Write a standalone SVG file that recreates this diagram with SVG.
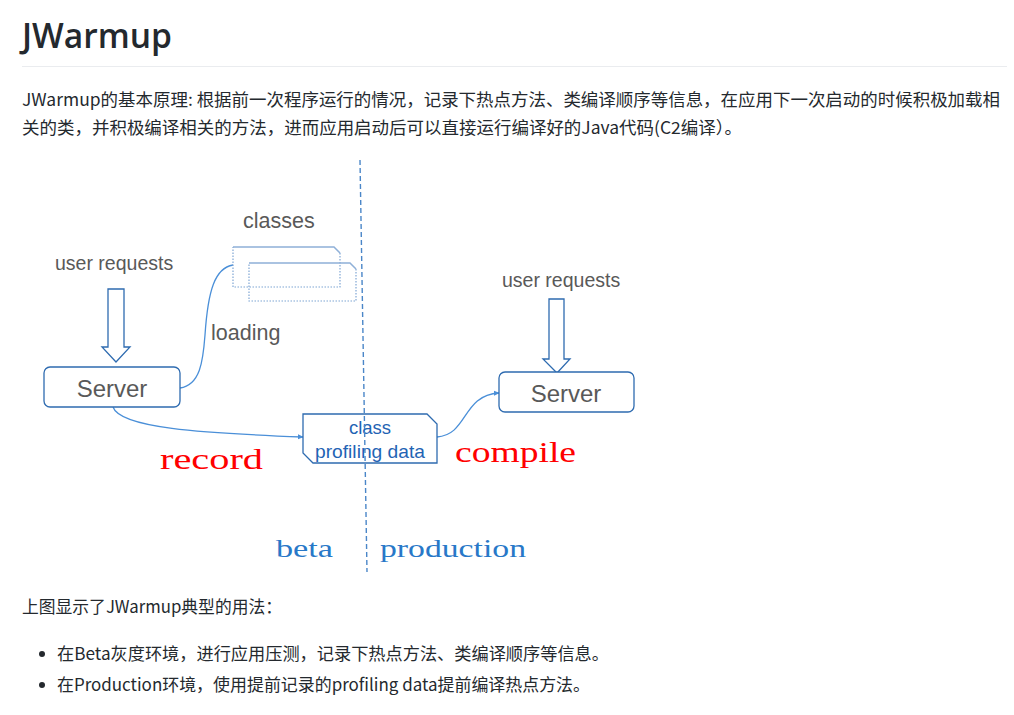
<svg xmlns="http://www.w3.org/2000/svg" width="1014" height="715" viewBox="0 0 1014 715">
<defs>
<style>
.doc{font-family:"Noto Sans CJK SC","Open Sans",sans-serif;font-size:17px;fill:#24292e}
.lbl{font-family:"Liberation Sans",Arial,sans-serif;fill:#595959}
.box{fill:#fff;stroke:#2e6bb0;stroke-width:1.3}
.conn{fill:none;stroke:#4a8fd8;stroke-width:1.3}
.cls{fill:none;stroke:#7fa6d4;stroke-width:1.2;stroke-dasharray:1.5 1.5}
.clstop{fill:none;stroke:#8fb0d8;stroke-width:1.5}
.red{font-family:"Liberation Serif","Times New Roman",serif;font-size:30px;fill:#ff0000}
.env{font-family:"Liberation Serif","Times New Roman",serif;font-size:26px;fill:#2878c8}
</style>
<marker id="ah" viewBox="0 0 8 8" refX="7" refY="4" markerWidth="6" markerHeight="6" orient="auto" markerUnits="userSpaceOnUse">
<path d="M0,0.5 L8,4 L0,7.5 Z" fill="#4a8fd8"/>
</marker>
</defs>
<rect width="1014" height="715" fill="#fff"/>

<g id="header">
<text x="22" y="48" font-family="'Open Sans','Noto Sans',sans-serif" font-weight="600" font-size="34" fill="#24292e" textLength="150" lengthAdjust="spacingAndGlyphs">JWarmup</text>
<line x1="22" y1="66.5" x2="1007" y2="66.5" stroke="#eaecef" stroke-width="1"/>
<text class="doc" x="22" y="106" textLength="978" lengthAdjust="spacingAndGlyphs">JWarmup的基本原理: 根据前一次程序运行的情况，记录下热点方法、类编译顺序等信息，在应用下一次启动的时候积极加载相</text>
<text class="doc" x="22" y="134" textLength="720" lengthAdjust="spacingAndGlyphs">关的类，并积极编译相关的方法，进而应用启动后可以直接运行编译好的Java代码(C2编译）。</text>
</g>

<g id="connectors">
<path class="conn" d="M180,388 C200,385 203,362 205,335 C208,290 215,268 233,265"/>
<path class="conn" d="M113,407 C120,428 200,433 303,437" marker-end="url(#ah)"/>
<path class="conn" d="M437,437 C468,435 462,395 499,393" marker-end="url(#ah)"/>
</g>

<g id="classes">
<text class="lbl" x="243" y="228" font-size="21.5">classes</text>
<path class="cls" d="M340,253 L340,287 L233,287 L233,247"/>
<path class="clstop" d="M233,247 L334,247 L340,253"/>
<path class="cls" d="M356,269 L356,301 L249,301 L249,263"/>
<path class="clstop" d="M249,263 L350,263 L356,269"/>
</g>

<g id="loading-label">
<text class="lbl" x="211" y="340" font-size="21.5">loading</text>
</g>

<g id="user-requests-left">
<text class="lbl" x="55" y="270" font-size="19.5">user requests</text>
<path d="M108,289 L124,289 L124,347 L130,347 L116,362 L102,347 L108,347 Z" fill="#fff" stroke="#2e6bb0" stroke-width="1.3"/>
</g>

<g id="server-left">
<rect class="box" x="44" y="367" width="136" height="40" rx="6"/>
<text class="lbl" x="112" y="397" font-size="24" text-anchor="middle">Server</text>
</g>

<g id="user-requests-right">
<text class="lbl" x="502" y="287" font-size="19.5">user requests</text>
<path d="M549,299 L564,299 L564,359 L570,359 L557,373 L543,359 L549,359 Z" fill="#fff" stroke="#2e6bb0" stroke-width="1.3"/>
</g>

<g id="server-right">
<rect class="box" x="499" y="372" width="135" height="40" rx="6"/>
<text class="lbl" x="566" y="402" font-size="24" text-anchor="middle">Server</text>
</g>

<g id="profiling-data">
<path class="box" d="M303,414 L427,414 L437,424 L437,463 L313,463 L303,453 Z"/>
<text x="370" y="434" font-family="'Liberation Sans',Arial,sans-serif" font-size="18.5" fill="#1f64b4" text-anchor="middle">class</text>
<text x="370" y="458" font-family="'Liberation Sans',Arial,sans-serif" font-size="18.5" fill="#1f64b4" text-anchor="middle" textLength="110" lengthAdjust="spacingAndGlyphs">profiling data</text>
</g>

<g id="divider">
<line x1="360" y1="160" x2="367" y2="572" stroke="#4a86c8" stroke-width="1.4" stroke-dasharray="5 3"/>
</g>

<g id="labels">
<text class="red" x="160" y="469" textLength="103" lengthAdjust="spacingAndGlyphs">record</text>
<text class="red" x="455" y="462" textLength="121" lengthAdjust="spacingAndGlyphs">compile</text>
<text class="env" x="276" y="557" textLength="57" lengthAdjust="spacingAndGlyphs">beta</text>
<text class="env" x="380" y="557" textLength="146" lengthAdjust="spacingAndGlyphs">production</text>
</g>

<g id="footer">
<text class="doc" x="22" y="613" textLength="260" lengthAdjust="spacingAndGlyphs">上图显示了JWarmup典型的用法：</text>
<circle cx="42" cy="654" r="3" fill="#24292e"/>
<text class="doc" x="57" y="660" textLength="552" lengthAdjust="spacingAndGlyphs">在Beta灰度环境，进行应用压测，记录下热点方法、类编译顺序等信息。</text>
<circle cx="42" cy="685" r="3" fill="#24292e"/>
<text class="doc" x="57" y="691" textLength="533" lengthAdjust="spacingAndGlyphs">在Production环境，使用提前记录的profiling data提前编译热点方法。</text>
</g>
</svg>
